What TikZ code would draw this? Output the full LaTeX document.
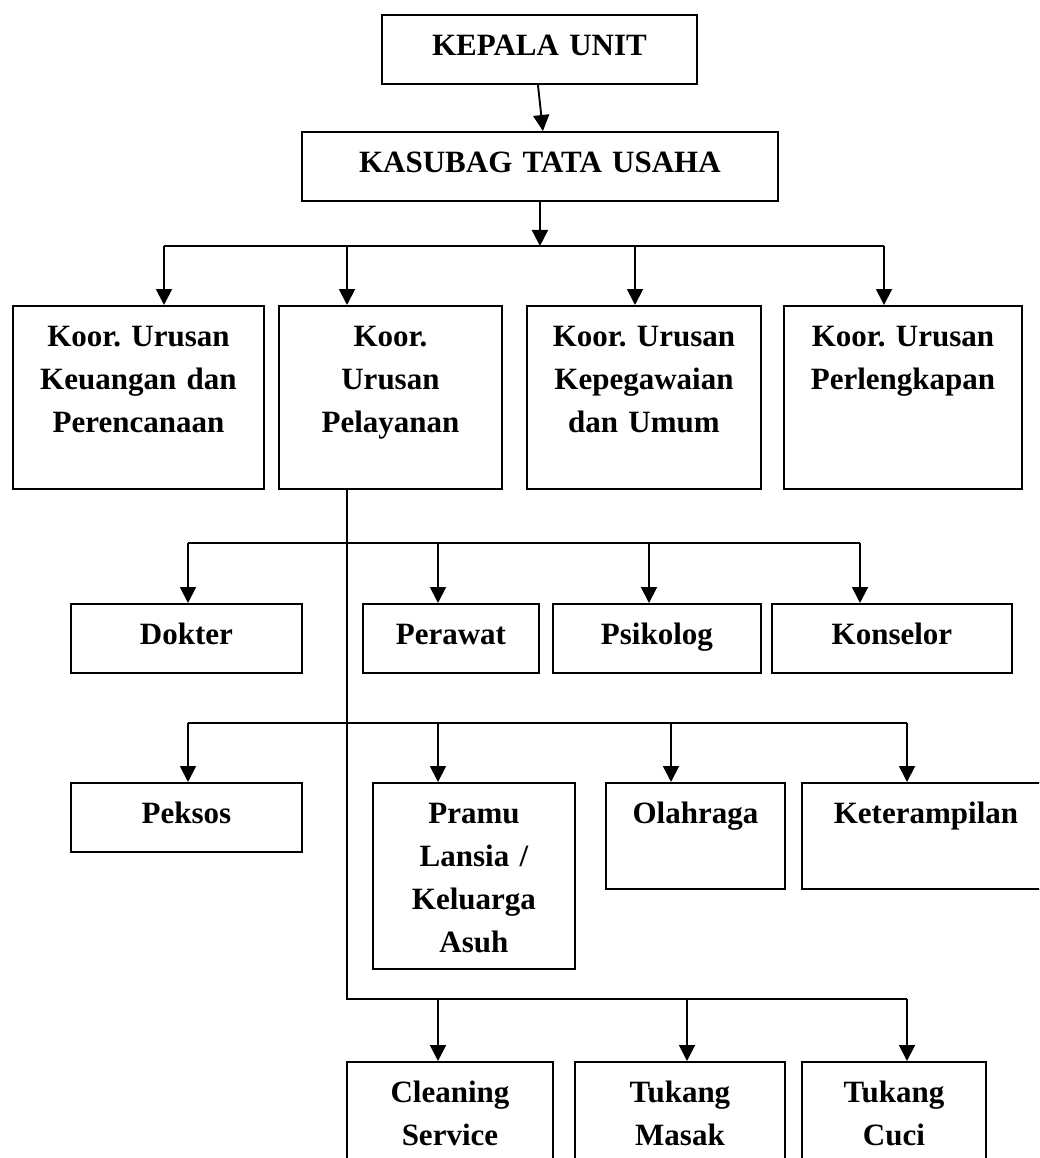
\documentclass[tikz,border=0pt]{standalone}
\usepackage{fontspec}
\setmainfont{Liberation Serif}
\usetikzlibrary{arrows.meta,positioning,calc}

\tikzset{
  box/.style={draw, rectangle, line width=1.9pt, inner sep=0pt, anchor=north west,
    align=center, text height=41pt, font=\frenchspacing\bfseries\fontsize{31}{43}\selectfont},
  link/.style={line width=1.9pt},
  arr/.style={link, -{Triangle[width=16pt,length=16pt]}}
}

\begin{document}
\begin{tikzpicture}[x=1pt,y=-1pt]
    \useasboundingbox (0,0) rectangle (1039,1158);
    \clip (0,0) rectangle (1039,1158);

    % Top
    \node[box, text width=315pt, text depth=28pt] (kepala) at (381,14) {KEPALA UNIT};
    \node[box, text width=476pt, text depth=28pt] (kasubag) at (301,131) {KASUBAG TATA USAHA};

    % Koordinator row
    \node[box, text width=251pt, text depth=142pt] (keu) at (12,305) {Koor. Urusan\\Keuangan dan\\Perencanaan};
    \node[box, text width=223pt, text depth=142pt] (pel) at (278,305) {Koor.\\Urusan\\Pelayanan};
    \node[box, text width=234pt, text depth=142pt] (peg) at (526,305) {Koor. Urusan\\Kepegawaian\\dan Umum};
    \node[box, text width=238pt, text depth=142pt] (perl) at (783,305) {Koor. Urusan\\Perlengkapan};

    % Tenaga medis / konseling
    \node[box, text width=231pt, text depth=28pt] (dokter) at (70,603) {Dokter};
    \node[box, text width=176pt, text depth=28pt] (perawat) at (362,603) {Perawat};
    \node[box, text width=208pt, text depth=28pt] (psikolog) at (552,603) {Psikolog};
    \node[box, text width=240pt, text depth=28pt] (konselor) at (771,603) {Konselor};

    % Pembinaan
    \node[box, text width=231pt, text depth=28pt] (peksos) at (70,782) {Peksos};
    \node[box, text width=202pt, text depth=145pt] (pramu) at (372,782) {Pramu\\Lansia /\\Keluarga\\Asuh};
    \node[box, text width=179pt, text depth=65pt] (olahraga) at (605,782) {Olahraga};
    \node[box, text width=248pt, text depth=65pt] (ketr) at (801,782) {Keterampilan};

    % Pendukung
    \node[box, text width=206pt, text depth=90pt] (cleaning) at (346,1061) {Cleaning\\Service};
    \node[box, text width=210pt, text depth=90pt] (masak) at (574,1061) {Tukang\\Masak};
    \node[box, text width=184pt, text depth=90pt] (cuci) at (801,1061) {Tukang\\Cuci};

    % Bus points
    \coordinate (k1) at (164,246);
    \coordinate (k2) at (347,246);
    \coordinate (k3) at (635,246);
    \coordinate (k4) at (884,246);
    \coordinate (d1) at (188,543);
    \coordinate (d2) at (438,543);
    \coordinate (d3) at (649,543);
    \coordinate (d4) at (860,543);
    \coordinate (p1) at (188,723);
    \coordinate (p2) at (438,723);
    \coordinate (p3) at (671,723);
    \coordinate (p4) at (907,723);
    \coordinate (c1) at (438,999);
    \coordinate (c2) at (687,999);
    \coordinate (c3) at (907,999);

    % Kepala -> Kasubag -> Koordinator
    \draw[arr] ([xshift=-1.5pt]kepala.south) -- ([xshift=3pt]kasubag.north);
    \draw[arr] (kasubag.south) -- (kasubag.south |- k1);
    \draw[link] (k1) -- (k4);
    \draw[arr] (k1) -- (k1 |- keu.north);
    \draw[arr] (k2) -- (k2 |- pel.north);
    \draw[arr] (k3) -- (k3 |- peg.north);
    \draw[arr] (k4) -- (k4 |- perl.north);

    % Trunk from Pelayanan
    \draw[link] (k2 |- pel.south) |- (c3);

    % Row 2
    \draw[link] (d1) -- (d4);
    \draw[arr] (d1) -- (d1 |- dokter.north);
    \draw[arr] (d2) -- (d2 |- perawat.north);
    \draw[arr] (d3) -- (d3 |- psikolog.north);
    \draw[arr] (d4) -- (d4 |- konselor.north);

    % Row 3
    \draw[link] (p1) -- (p4);
    \draw[arr] (p1) -- (p1 |- peksos.north);
    \draw[arr] (p2) -- (p2 |- pramu.north);
    \draw[arr] (p3) -- (p3 |- olahraga.north);
    \draw[arr] (p4) -- (p4 |- ketr.north);

    % Row 4
    \draw[arr] (c1) -- (c1 |- cleaning.north);
    \draw[arr] (c2) -- (c2 |- masak.north);
    \draw[arr] (c3) -- (c3 |- cuci.north);
\end{tikzpicture}
\end{document}
